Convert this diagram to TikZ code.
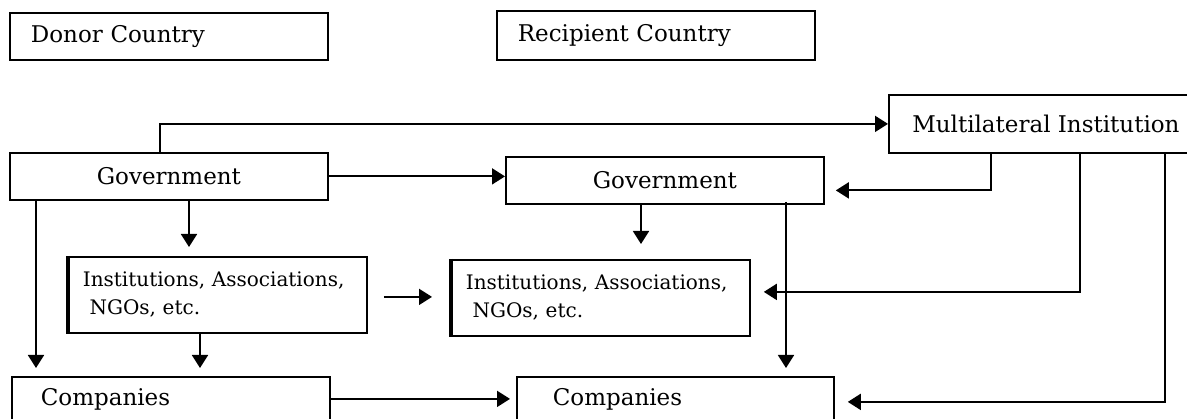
\documentclass[tikz,border=0pt]{standalone}
\usepackage{fontspec}
\setmainfont{DejaVu Serif}
\usetikzlibrary{arrows.meta}

\begin{document}
\begin{tikzpicture}[x=1pt, y=-1pt,
    box/.style={draw, line width=1.8pt, anchor=north west, inner ysep=0pt,
        minimum height=47pt, font=\fontsize{23}{28}\selectfont},
    leftbox/.style 2 args={box, align=left, inner xsep=#1, text width=#2},
    instbox/.style={leftbox={14pt}{270pt}, minimum height=76pt,
        font=\fontsize{20}{28}\selectfont},
    flow/.style={line width=1.8pt, -{Triangle[length=13pt, width=16pt]}}]

    \clip (0,0) rectangle (1187,419);

    % Headings
    \node[leftbox={21pt}{276pt}] (donor) at (9,12) {Donor Country};
    \node[leftbox={21pt}{276pt}, minimum height=49pt] (recip) at (496,10) {Recipient Country};

    % Multilateral
    \node[box, minimum width=314pt, minimum height=58pt] (multi) at (888,94) {Multilateral Institution};

    % Governments
    \node[box, minimum width=318pt] (dgov) at (9,152) {Government};
    \node[box, minimum width=318pt] (rgov) at (505,156) {Government};

    % Institutions
    \node[instbox] (dinst) at (68,256) {Institutions, Associations,\\\ NGOs, etc.};
    \node[instbox] (rinst) at (451,259) {Institutions, Associations,\\\ NGOs, etc.};
    \draw[line width=3.2pt] (dinst.north west) -- (dinst.south west);
    \draw[line width=3.2pt] (rinst.north west) -- (rinst.south west);

    % Companies
    \node[leftbox={29pt}{260pt}, minimum height=44pt] (dcomp) at (11,376) {Companies};
    \node[leftbox={36pt}{245pt}, minimum height=44pt] (rcomp) at (516,376) {Companies};

    % Donor side
    \draw[flow] ([xshift=151pt]dgov.north west) |- (multi.west);
    \draw[flow] (dgov.east) -- (dgov.east -| rgov.west);
    \draw[flow] ([xshift=180pt]dgov.south west) -- ([xshift=121pt,yshift=9pt]dinst.north west);
    \draw[flow] ([xshift=27pt]dgov.south west) -- ([xshift=25pt,yshift=8pt]dcomp.north west);
    \draw[flow] ([xshift=132pt]dinst.south west) -- ([xshift=189pt,yshift=8pt]dcomp.north west);
    \draw[flow] ([xshift=16pt,yshift=-2pt]dinst.east) -- ([xshift=-19pt,yshift=-2pt]dinst.east -| rinst.west);
    \draw[flow] (dcomp.east) -- ([xshift=-6pt]dcomp.east -| rcomp.west);

    % Recipient side
    \draw[flow] ([xshift=136pt]rgov.south west) -- ([xshift=190pt,yshift=15pt]rinst.north west);
    \draw[flow] ([xshift=281pt,yshift=3pt]rgov.south west) -- ([xshift=270pt,yshift=8pt]rcomp.north west);

    % Multilateral flows
    \draw[flow] ([xshift=103pt]multi.south west) |- ([xshift=11pt,yshift=-10pt]rgov.east);
    \draw[flow] ([xshift=192pt]multi.south west) |- ([xshift=13pt,yshift=6pt]rinst.east);
    \draw[flow] ([xshift=277pt]multi.south west) |- ([xshift=13pt,yshift=-3pt]rcomp.east);
\end{tikzpicture}
\end{document}
